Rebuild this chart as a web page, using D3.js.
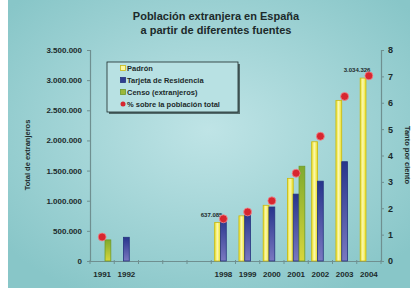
<!DOCTYPE html>
<html>
<head>
<meta charset="utf-8">
<script src="https://cdn.jsdelivr.net/npm/d3@7"></script>
<style>
  body { margin: 0; background: #fff; }
  svg { display: block; font-family: "Liberation Sans", Arial, sans-serif; }
</style>
</head>
<body>
<div id="chart"></div>
<script>
// Categories, with three empty slots between 1992 and 1998
const categories = ["1991", "1992", "g1", "g2", "g3", "1998", "1999", "2000", "2001", "2002", "2003", "2004"];
const padron  = [null, null, null, null, null, 637085, 748954, 923879, 1370657, 1977946, 2664168, 3034326];
const tarjeta = [null, 393100, null, null, null, 719647, 801329, 895720, 1109060, 1324001, 1647011, null];
const censo   = [350062, null, null, null, null, null, null, null, 1572013, null, null, null];
const pct     = [0.91, null, null, null, null, 1.60, 1.86, 2.28, 3.33, 4.73, 6.24, 7.02];
const leftTicks = [0, 500000, 1000000, 1500000, 2000000, 2500000, 3000000, 3500000];
const rightTicks = [0, 1, 2, 3, 4, 5, 6, 7, 8];
const labelled = [{ key: "1998", value: 637085 }, { key: "2004", value: 3034326 }];

const W = 416, H = 292;
const plot = { left: 90, right: 381, top: 50, bottom: 261 };

const locale = d3.formatLocale({ decimal: ",", thousands: ".", grouping: [3], currency: ["", ""] });
const fmt = locale.format(",d");

const svg = d3.select("#chart").append("svg")
    .attr("width", W)
    .attr("height", H);

const defs = svg.append("defs");

// Background gradient
const bg = defs.append("radialGradient")
    .attr("id", "bg").attr("cx", "50%").attr("cy", "45%").attr("r", "65%");
bg.append("stop").attr("offset", "0%").attr("stop-color", "#bfe4e6");
bg.append("stop").attr("offset", "100%").attr("stop-color", "#88c6c8");

function vGrad(id, top, bottom) {
    const g = defs.append("linearGradient").attr("id", id)
        .attr("x1", 0).attr("y1", 0).attr("x2", 0).attr("y2", 1);
    g.append("stop").attr("offset", "0%").attr("stop-color", top);
    g.append("stop").attr("offset", "100%").attr("stop-color", bottom);
}
function hGrad(id, edge, mid) {
    const g = defs.append("linearGradient").attr("id", id)
        .attr("x1", 0).attr("y1", 0).attr("x2", 1).attr("y2", 0);
    g.append("stop").attr("offset", "0%").attr("stop-color", edge);
    g.append("stop").attr("offset", "45%").attr("stop-color", mid);
    g.append("stop").attr("offset", "100%").attr("stop-color", edge);
}
hGrad("gPadron", "#ebe01c", "#fbf8b4");
vGrad("gTarjeta", "#27358c", "#7a78c0");
vGrad("gCenso", "#7faa2e", "#d8d63a");

svg.append("rect")
    .attr("x", 8).attr("y", 0)
    .attr("width", 402).attr("height", 288)
    .attr("fill", "url(#bg)");

// Scales
const x = d3.scaleBand()
    .domain(categories)
    .range([plot.left, plot.right]);

const y = d3.scaleLinear()
    .domain([0, 3500000])
    .range([plot.bottom, plot.top]);

const y2 = d3.scaleLinear()
    .domain([0, 8])
    .range([plot.bottom, plot.top]);

const barW = 5.8;
const series = [
    { name: "Padrón", values: padron, fill: "url(#gPadron)", stroke: "#c9b814", offset: -1 },
    { name: "Tarjeta de Residencia", values: tarjeta, fill: "url(#gTarjeta)", stroke: "#25337e", offset: 0 },
    { name: "Censo (extranjeros)", values: censo, fill: "url(#gCenso)", stroke: "#6f9a28", offset: 1 }
];

const axisColor = "#6f8f90";

// Left axis
const leftAxis = svg.append("g")
    .attr("transform", `translate(${plot.left},0)`)
    .call(d3.axisLeft(y).tickValues(leftTicks).tickFormat(fmt).tickSize(3).tickPadding(5));
leftAxis.selectAll("text")
    .style("font-size", "8px").style("font-weight", "bold").attr("fill", "#1c2a2a");

// Right axis
const rightAxis = svg.append("g")
    .attr("transform", `translate(${plot.right},0)`)
    .call(d3.axisRight(y2).tickValues(rightTicks).tickSize(3).tickPadding(4));
rightAxis.selectAll("text")
    .style("font-size", "9px").style("font-weight", "bold").attr("fill", "#1c2a2a");

// Bottom axis: labels at centres, ticks at category boundaries
const bottomAxis = svg.append("g")
    .attr("transform", `translate(0,${plot.bottom})`)
    .call(d3.axisBottom(x).tickSize(0).tickPadding(10).tickFormat((d) => d.startsWith("g") ? "" : d));
bottomAxis.selectAll("text")
    .style("font-size", "8px").style("font-weight", "bold").attr("fill", "#1c2a2a");

const bounds = categories.map((c) => x(c)).concat([x.range()[1]]);
bottomAxis.selectAll(".boundary")
    .data(bounds)
    .join("line")
        .attr("class", "boundary")
        .attr("x1", (d) => d).attr("x2", (d) => d)
        .attr("y1", -1).attr("y2", 3)
        .attr("stroke", axisColor);

svg.selectAll(".domain, .tick line").attr("stroke", axisColor);
svg.selectAll(".domain").attr("stroke-width", 1.2);

// Bars, three slots per category centred on the category
series.forEach((s) => {
    const data = categories.map((c, i) => ({ key: c, value: s.values[i] })).filter((d) => d.value != null);
    svg.append("g").selectAll("rect")
        .data(data)
        .join("rect")
            .attr("x", (d) => x(d.key) + x.bandwidth() / 2 + (s.offset - 0.5) * barW)
            .attr("y", (d) => y(d.value))
            .attr("width", barW)
            .attr("height", (d) => plot.bottom - y(d.value))
            .attr("fill", s.fill)
            .attr("stroke", s.stroke)
            .attr("stroke-width", 0.8);
});

// Value labels above the Padrón bars
svg.append("g").selectAll("text")
    .data(labelled)
    .join("text")
        .text((d) => fmt(d.value))
        .attr("x", (d) => x(d.key) + x.bandwidth() / 2 - barW - 6)
        .attr("y", (d) => y(d.value) - 6)
        .attr("text-anchor", "middle")
        .style("font-size", "6px")
        .style("font-weight", "bold")
        .attr("fill", "#1c2a2a");

// Percentage dots
const dots = categories.map((c, i) => ({ key: c, value: pct[i] })).filter((d) => d.value != null);
svg.append("g").selectAll("circle")
    .data(dots)
    .join("circle")
        .attr("cx", (d) => x(d.key) + x.bandwidth() / 2)
        .attr("cy", (d) => y2(d.value))
        .attr("r", 4)
        .attr("fill", "#d7262f")
        .attr("stroke", "#f08a90")
        .attr("stroke-width", 0.8);

// Titles
svg.append("text")
    .text("Población extranjera en España")
    .attr("x", 216).attr("y", 20)
    .attr("text-anchor", "middle")
    .style("font-size", "11px").style("font-weight", "bold").attr("fill", "#1c2a2a");
svg.append("text")
    .text("a partir de diferentes fuentes")
    .attr("x", 216).attr("y", 34)
    .attr("text-anchor", "middle")
    .style("font-size", "11px").style("font-weight", "bold").attr("fill", "#1c2a2a");

svg.append("text")
    .text("Total de extranjeros")
    .attr("transform", "translate(30,155) rotate(-90)")
    .attr("text-anchor", "middle")
    .style("font-size", "7.5px").style("font-weight", "bold").attr("fill", "#1c2a2a");
svg.append("text")
    .text("Tanto por ciento")
    .attr("transform", "translate(405,155) rotate(90)")
    .attr("text-anchor", "middle")
    .style("font-size", "7.5px").style("font-weight", "bold").attr("fill", "#1c2a2a");

// Legend
const legend = svg.append("g").attr("transform", "translate(107,62)");
legend.append("rect")
    .attr("x", 2).attr("y", 2).attr("width", 131).attr("height", 50)
    .attr("fill", "#2a3a3a").attr("opacity", 0.7);
legend.append("rect")
    .attr("width", 131).attr("height", 50)
    .attr("fill", "#b8e1e3").attr("stroke", "#1c2a2a").attr("stroke-width", 0.8);

const legendItems = [
    { name: "Padrón", fill: "#fbf6a0", stroke: "#c9b814", type: "rect" },
    { name: "Tarjeta de Residencia", fill: "#2f3d90", stroke: "#25337e", type: "rect" },
    { name: "Censo (extranjeros)", fill: "#9cb83a", stroke: "#6f9a28", type: "rect" },
    { name: "% sobre la población total", fill: "#d7262f", stroke: "#d7262f", type: "circle" }
];
const item = legend.selectAll(".item")
    .data(legendItems)
    .join("g")
        .attr("class", "item")
        .attr("transform", (d, i) => `translate(16,${6 + i * 12})`);
item.filter((d) => d.type === "rect").append("rect")
    .attr("x", -2.5).attr("y", -2.5).attr("width", 5).attr("height", 5)
    .attr("fill", (d) => d.fill).attr("stroke", (d) => d.stroke).attr("stroke-width", 0.8);
item.filter((d) => d.type === "circle").append("circle")
    .attr("r", 2.5).attr("fill", (d) => d.fill);
item.append("text")
    .text((d) => d.name)
    .attr("x", 4).attr("y", 2.7)
    .style("font-size", "7.5px").style("font-weight", "bold").attr("fill", "#1c2a2a");
</script>
</body>
</html>
